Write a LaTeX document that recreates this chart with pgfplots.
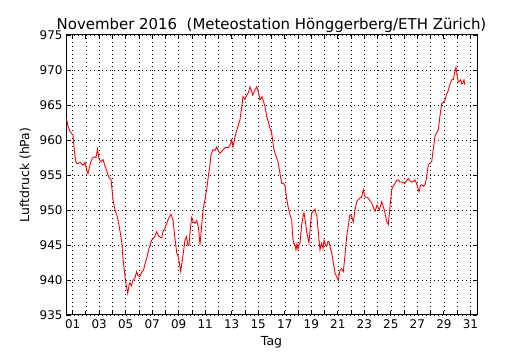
\documentclass[border=0pt]{standalone}
\usepackage{fontspec}
\setmainfont{DejaVu Sans}
\usepackage{pgfplots}
\pgfplotsset{compat=1.18}
\usepackage{pgfplotstable}

% px = horizontal position (axis spans px 66..477 = 31 days), p = pressure in hPa
\pgfplotstableread{
px p
66.5 963.0
68 962.0
70 961.2
73 960.7
74 959.0
75.5 957.0
77 956.6
80 956.8
83 956.4
85 956.8
86.5 955.8
88 955.2
90 956.5
92 957.3
94 957.6
96 957.5
97.5 958.7
99 957.3
101 956.9
103 957.2
105 956.3
107 955.5
109 954.6
111 954.4
113 951.5
115 950.0
117 949.2
118.5 948.2
120 947.0
121.7 945.5
123 943.0
125 940.5
126.5 939.0
127.7 938.1
129 939.2
130 939.6
131.5 939.2
133 940.0
135 940.3
136.7 941.2
138 940.6
140 940.5
142 941.2
143.5 941.4
145 942.3
146.7 943.1
149 944.5
151.7 945.7
153 945.9
155 946.3
156.7 946.9
159 946.2
161.7 946.0
163 946.9
165 947.4
168 948.6
171 949.4
173 948.6
174.5 946.5
176.7 943.9
178.5 943.2
180.7 941.2
183 943.5
185 945.7
186.5 946.2
188 944.9
189 945.0
190.5 947.5
191.7 948.9
193.5 948.3
195 948.1
196.7 948.5
198.5 947.5
200 945.0
201.5 947.5
203.3 950.3
205 951.5
206.7 952.9
208.5 955.0
210 956.5
211 957.9
213 958.6
215 958.5
216.7 959.0
218.5 958.4
220 958.1
222.5 958.5
225 958.9
228 958.9
230 959.2
231.7 960.0
233 959.0
235 960.5
236.7 961.4
238.5 962.2
240 962.9
241.5 964.5
243 966.2
245 965.8
246.7 966.4
248.5 966.8
250 967.6
251.5 967.0
252.7 966.4
254.5 967.0
256.7 967.6
258.5 966.8
260 965.7
262 966.2
263.5 965.5
265 964.8
266.5 963.5
268.3 962.6
270 961.7
271.7 961.0
273.5 959.0
275 958.1
276.5 957.5
278 956.9
280 955.2
281.7 953.8
283.5 953.8
285 953.5
286.5 951.8
288 950.5
290 949.3
291.7 948.6
292.5 946.5
293.5 945.3
295 945.0
296 944.3
297 945.2
298 944.4
299 945.0
300 945.3
301.7 947.9
303 949.0
304 949.6
305.5 948.2
306.7 946.9
308 945.9
309 945.3
310.5 948.0
311.7 949.6
313.5 949.9
315 950.1
317 949.0
318.5 946.5
320 944.3
321.5 945.2
323 944.5
324 945.7
325.5 945.0
326.7 944.8
328 945.5
329 945.5
330.5 944.5
331.7 943.9
333.5 942.3
335 941.0
336.5 940.5
338.3 940.0
340 941.4
341.7 941.6
343.3 941.2
345 943.5
346.7 946.2
348.5 948.0
350 949.3
351.5 949.1
353.3 948.3
355 950.0
356.7 951.2
358.5 951.5
360 951.7
361.5 951.8
363.3 952.9
365 951.9
366.5 951.8
368.3 951.7
370 951.3
371.7 951.0
373.5 950.3
375 949.8
377 950.7
379.3 950.0
381.7 951.2
383 950.6
384.3 950.0
386.5 948.5
388.3 947.9
390 950.5
391.7 952.9
393.5 953.5
395 953.8
396.5 954.2
398.3 954.3
400 954.0
401.7 954.0
403.5 953.9
405 953.8
406.5 954.2
408.3 954.5
410 954.2
411.7 954.0
413.5 954.1
415 954.3
417 953.6
419 952.6
420.5 953.5
421.7 953.6
423.5 953.4
425 953.6
426.5 954.5
427.3 955.5
428.3 956.4
430 956.7
431.7 956.9
433.5 959.0
435 960.5
436.5 961.0
438.3 961.4
440 963.5
441.7 965.2
443.5 965.4
445 965.7
446.5 966.5
448.3 967.1
450 968.0
451.7 968.6
453.3 968.6
454.5 969.5
456 970.4
457 969.3
458.3 968.3
459.5 968.4
460.7 968.6
461.7 968.0
462.7 968.1
464 968.6
464.7 967.9
}\datatable

\begin{document}
\begin{tikzpicture}
\begin{axis}[
  scale only axis, width=411bp, height=280bp,
  xmin=0, xmax=31, ymin=935, ymax=975,
  xtick={0.5,1.5,...,30.5},
  xticklabels={01,,03,,05,,07,,09,,11,,13,,15,,17,,19,,21,,23,,25,,27,,29,,31},
  ytick={935,940,...,975},
  tick align=inside, major tick length=4bp,
  tick style={black, line width=0.8bp},
  grid=major,
  grid style={black, line width=0.4bp, dash pattern=on 1bp off 3bp},
  axis line style={line width=1bp},
  ticklabel style={font=\fontsize{12}{14}\selectfont},
  /pgf/number format/assume math mode=true,
  /pgf/number format/1000 sep={},
  xticklabel style={yshift=-1bp},
  title={November 2016\ \ (Meteostation Hönggerberg/ETH Zürich)},
  title style={font=\fontsize{15}{17}\selectfont, yshift=-7bp},
  xlabel={Tag}, ylabel={Luftdruck (hPa)},
  label style={font=\fontsize{12.5}{14}\selectfont},
  xlabel style={yshift=-1bp},
  ylabel style={yshift=2bp},
]
\addplot[red, line width=0.9bp] table[x expr={(\thisrow{px}-66)/13.258}, y=p] {\datatable};
\end{axis}
\path[use as bounding box] ([xshift=-66bp,yshift=-35bp]current axis.south west) rectangle ([xshift=53bp,yshift=35bp]current axis.north east);
\end{tikzpicture}
\end{document}
